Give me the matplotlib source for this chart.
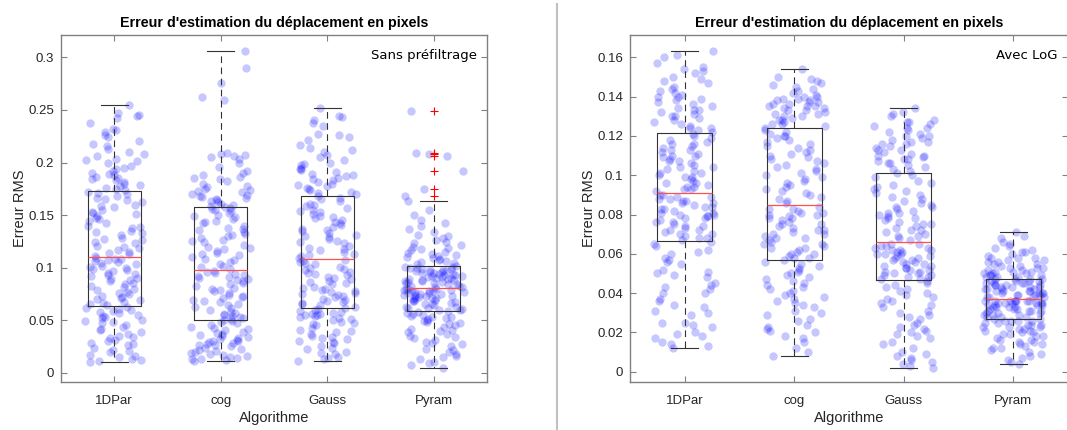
import numpy as np
import matplotlib.pyplot as plt
from matplotlib.lines import Line2D

# valeurs, en millièmes de pixel
algos = ['1DPar', 'cog', 'Gauss', 'Pyram']

sans_1dpar = [10, 11, 13, 15, 17, 20, 22, 24, 26, 28, 30, 31, 33, 35, 37, 39, 42, 44, 45, 47,
              49, 50, 52, 54, 55, 57, 59, 60, 62, 63,
              64, 65, 67, 69, 70, 72, 73, 75, 77, 79, 80, 82, 84, 85, 87, 88, 90, 92, 94, 95,
              97, 99, 100, 102, 103, 104, 105, 107, 108, 109,
              111, 113, 115, 117, 119, 121, 123, 124, 126, 128, 131, 133, 135, 138, 140, 142,
              144, 147, 149, 151, 153, 155, 158, 160, 162, 164, 166, 168, 170, 172,
              174, 176, 178, 180, 181, 183, 185, 186, 188, 190, 192, 194, 197, 200, 202, 203,
              206, 210, 213, 216, 220, 224, 226, 229, 232, 238, 242, 245, 247, 255,
              12, 16, 21, 27, 34, 41, 48, 53, 58, 61, 66, 71, 76, 83, 89, 93, 98, 101, 106, 108,
              114, 120, 127, 134, 139, 146, 152, 159, 165, 171,
              175, 179, 184, 189, 195, 201, 208, 218, 231, 244]
sans_cog = [11, 12, 13, 14, 16, 17, 19, 20, 21, 23, 24, 25, 26, 27, 28, 29, 30, 31, 32, 33,
            35, 36, 38, 39, 41, 42, 44, 45, 47, 49,
            50, 51, 52, 54, 55, 56, 58, 60, 62, 64, 65, 67, 69, 71, 72, 74, 76, 78, 80, 81,
            83, 85, 87, 89, 90, 92, 93, 95, 96, 97,
            99, 101, 103, 105, 107, 110, 112, 114, 116, 118, 120, 122, 124, 126, 128, 130,
            132, 134, 136, 138, 140, 142, 144, 146, 148, 150, 152, 154, 156, 157,
            158, 160, 161, 163, 164, 166, 167, 168, 170, 172, 174, 175, 177, 180, 182, 184,
            186, 188, 190, 196, 200, 203, 207, 208, 209, 259, 262, 276, 290, 306,
            13, 15, 18, 22, 26, 30, 34, 37, 43, 48, 53, 57, 63, 68, 73, 79, 84, 88, 91, 94,
            102, 108, 113, 119, 125, 131, 137, 143, 149, 155,
            159, 162, 165, 169, 173, 178, 185, 192, 205, 206]
sans_gauss = [11, 13, 15, 18, 20, 23, 25, 28, 30, 32, 33, 35, 37, 39, 41, 43, 45, 46, 48, 50,
              51, 52, 54, 55, 55, 56, 57, 58, 60, 61,
              62, 63, 65, 66, 67, 68, 70, 72, 73, 75, 76, 78, 79, 80, 82, 84, 86, 87, 89, 91,
              93, 95, 96, 98, 100, 101, 103, 104, 106, 107,
              109, 111, 113, 115, 117, 119, 121, 123, 125, 127, 129, 131, 133, 135, 137, 139,
              141, 143, 145, 147, 149, 151, 153, 155, 157, 159, 161, 163, 165, 168,
              170, 172, 174, 176, 178, 180, 181, 183, 185, 187, 189, 191, 193, 195, 198, 199,
              202, 205, 207, 210, 214, 217, 221, 224, 227, 235, 238, 243, 244, 252,
              14, 19, 24, 29, 34, 40, 47, 53, 56, 59, 64, 69, 74, 77, 81, 85, 90, 94, 99, 105,
              112, 118, 124, 130, 136, 142, 148, 154, 160, 166,
              171, 175, 179, 184, 188, 194, 200, 212, 226, 240]
sans_pyram = [5, 7, 10, 13, 16, 18, 20, 23, 25, 27, 29, 31, 33, 35, 37, 39, 40, 42, 44, 46,
              47, 48, 50, 51, 52, 53, 54, 55, 57, 58,
              59, 60, 61, 62, 62, 63, 64, 65, 66, 67, 68, 69, 70, 70, 71, 72, 73, 73, 74, 75,
              75, 76, 77, 77, 78, 78, 79, 79, 80, 80,
              82, 82, 83, 84, 84, 85, 86, 86, 87, 88, 88, 89, 90, 90, 91, 92, 92, 93, 94, 94,
              95, 96, 96, 97, 98, 98, 99, 100, 100, 101,
              102, 104, 106, 108, 110, 112, 113, 115, 117, 119, 120, 122, 124, 126, 128, 131,
              134, 137, 140, 145, 150, 155, 163, 168, 175, 192, 206, 208, 209, 249,
              9, 15, 22, 28, 34, 41, 45, 49, 53, 56, 60, 63, 65, 68, 71, 72, 74, 76, 78, 80,
              83, 85, 87, 89, 91, 93, 95, 97, 99, 101,
              103, 105, 107, 109, 111, 114, 118, 123, 130, 142]

log_1dpar = [12, 13, 15, 17, 19, 20, 23, 25, 25, 29, 31, 33, 34, 37, 40, 40, 42, 43, 45, 48,
             49, 50, 52, 55, 56, 58, 60, 62, 64, 66,
             67, 68, 69, 70, 71, 72, 73, 74, 75, 76, 77, 78, 78, 79, 80, 80, 81, 82, 83, 84,
             84, 85, 86, 87, 87, 88, 89, 89, 90, 90,
             92, 93, 93, 94, 95, 96, 97, 98, 99, 100, 101, 102, 103, 104, 105, 106, 107, 108,
             109, 110, 111, 112, 113, 114, 115, 116, 117, 118, 120, 121,
             122, 123, 124, 125, 127, 128, 129, 130, 131, 132, 133, 134, 135, 137, 138, 139,
             140, 141, 142, 143, 145, 147, 149, 150, 152, 153, 155, 157, 160, 163,
             14, 18, 24, 30, 36, 44, 51, 57, 61, 65, 68, 70, 72, 74, 76, 79, 81, 83, 86, 88,
             94, 96, 99, 101, 104, 107, 110, 113, 116, 119,
             124, 126, 130, 133, 136, 140, 144, 148, 154, 161]
log_cog = [8, 12, 15, 18, 20, 21, 22, 24, 26, 27, 30, 31, 33, 34, 35, 37, 38, 39, 40, 41,
           43, 44, 45, 47, 49, 50, 51, 53, 55, 56,
           57, 58, 59, 60, 61, 62, 63, 64, 65, 66, 67, 68, 69, 70, 70, 71, 72, 73, 74, 75,
           76, 77, 78, 79, 80, 80, 81, 82, 83, 84,
           86, 87, 88, 89, 91, 92, 94, 95, 96, 98, 99, 100, 102, 103, 104, 106, 107, 109,
           110, 111, 113, 114, 115, 116, 118, 119, 120, 121, 122, 124,
           125, 126, 127, 128, 129, 130, 131, 131, 132, 133, 134, 134, 135, 135, 136, 137,
           137, 138, 139, 139, 140, 141, 142, 143, 144, 146, 147, 148, 150, 154,
           10, 17, 23, 29, 36, 42, 46, 48, 52, 54, 58, 60, 63, 65, 68, 72, 75, 78, 81, 83,
           90, 93, 97, 101, 105, 108, 112, 117, 120, 123,
           126, 128, 130, 133, 135, 136, 138, 140, 145, 149]
log_gauss = [2, 4, 5, 7, 8, 10, 12, 15, 17, 19, 20, 21, 22, 24, 25, 27, 28, 30, 31, 33,
             35, 36, 37, 38, 39, 40, 42, 43, 45, 46,
             47, 47, 48, 49, 50, 50, 51, 52, 53, 53, 54, 55, 55, 56, 57, 57, 58, 59, 59, 60,
             60, 61, 61, 62, 62, 63, 63, 64, 65, 65,
             67, 68, 69, 70, 71, 72, 73, 74, 75, 76, 77, 78, 79, 80, 81, 82, 83, 84, 85, 86,
             88, 89, 90, 91, 93, 94, 95, 97, 99, 101,
             102, 104, 105, 106, 107, 108, 109, 110, 111, 112, 113, 114, 115, 116, 116, 117,
             118, 119, 120, 121, 122, 123, 124, 125, 126, 127, 128, 130, 132, 134,
             3, 6, 9, 14, 18, 23, 29, 34, 41, 44, 48, 49, 51, 52, 54, 56, 58, 60, 62, 64,
             69, 72, 75, 78, 81, 84, 87, 92, 96, 100,
             103, 106, 108, 110, 113, 117, 120, 124, 127, 131]
log_pyram = [4, 5, 7, 9, 10, 11, 12, 13, 14, 15, 15, 16, 17, 18, 18, 19, 20, 20, 21, 22,
             22, 23, 23, 24, 24, 25, 25, 26, 26, 26,
             27, 27, 28, 28, 29, 29, 30, 30, 31, 31, 31, 32, 32, 33, 33, 33, 34, 34, 34, 35,
             35, 35, 35, 36, 36, 36, 36, 36, 36, 36,
             38, 38, 38, 39, 39, 39, 40, 40, 40, 41, 41, 41, 42, 42, 42, 43, 43, 43, 44, 44,
             44, 45, 45, 45, 46, 46, 46, 47, 47, 47,
             48, 48, 49, 49, 50, 50, 51, 51, 52, 52, 53, 53, 54, 55, 55, 56, 57, 57, 58, 58,
             59, 60, 61, 62, 63, 64, 65, 68, 69, 71,
             6, 8, 12, 14, 16, 19, 21, 23, 24, 26, 28, 29, 30, 31, 32, 33, 34, 35, 35, 36,
             38, 39, 40, 41, 42, 43, 44, 45, 46, 47,
             48, 49, 50, 51, 53, 54, 56, 58, 61, 66]

panels = [
    ([sans_1dpar, sans_cog, sans_gauss, sans_pyram], 'Sans préfiltrage',
     (-0.0088, 0.3213), [0, 0.05, 0.1, 0.15, 0.2, 0.25, 0.3]),
    ([log_1dpar, log_cog, log_gauss, log_pyram], 'Avec LoG',
     (-0.0052, 0.1713), [0, 0.02, 0.04, 0.06, 0.08, 0.1, 0.12, 0.14, 0.16]),
]

plt.rcParams['font.family'] = ['Liberation Sans', 'DejaVu Sans']
gris = '#808080'

fig = plt.figure(figsize=(10.67, 4.3), dpi=100)
positions = [[61 / 1067, 0.1116, 426 / 1067, 0.807],
             [630 / 1067, 0.1116, 438 / 1067, 0.807]]

rng = np.random.default_rng(3)  # jitter horizontal seulement

for (groupes, legende, ylim, yticks), pos in zip(panels, positions):
    ax = fig.add_axes(pos)
    data = [np.array(g) / 1000 for g in groupes]
    for k, vals in enumerate(data):
        xj = k + 1 + rng.uniform(-0.28, 0.28, len(vals))
        ax.scatter(xj, vals, s=36, color=(0, 0, 1), alpha=0.22, linewidths=0, zorder=2)
    ax.boxplot(data, positions=[1, 2, 3, 4], widths=0.5, whis=1.5,
               capwidths=0.25, zorder=3,
               boxprops=dict(color='#333333', linewidth=0.8),
               medianprops=dict(color='#ff5050', linewidth=0.9),
               whiskerprops=dict(color='#333333', linewidth=0.8, linestyle=(0, (6, 4))),
               capprops=dict(color='#333333', linewidth=0.8),
               flierprops=dict(marker='+', markeredgecolor='red', markersize=6,
                               markeredgewidth=0.8))
    ax.set_xlim(0.5, 4.5)
    ax.set_ylim(*ylim)
    ax.set_yticks(yticks)
    ax.set_yticklabels([f'{t:g}' for t in yticks])
    ax.set_xticks([1, 2, 3, 4])
    ax.set_xticklabels(algos)
    ax.tick_params(direction='in', length=4, width=0.8, color=gris,
                   top=True, right=True, labelsize=9.5, labelcolor='#262626', pad=5)
    ax.tick_params(axis='x', pad=9)
    for sp in ax.spines.values():
        sp.set_color(gris)
        sp.set_linewidth(1)
    ax.set_title("Erreur d'estimation du déplacement en pixels",
                 fontsize=10.3, fontweight='bold', pad=6)
    ax.set_xlabel('Algorithme', fontsize=10.5, color='#262626', labelpad=3)
    ax.set_ylabel('Erreur RMS', fontsize=10.5, color='#262626', labelpad=1)
    ax.text(0.977, 0.94, legende, transform=ax.transAxes, ha='right', va='center',
            fontsize=9.5, family='DejaVu Sans', zorder=5)

fig.add_artist(Line2D([556.7 / 1067] * 2, [0, 426 / 430], color='#c0c0c0',
                      linewidth=1.5, transform=fig.transFigure))

fig.savefig('out.png', dpi=100)
